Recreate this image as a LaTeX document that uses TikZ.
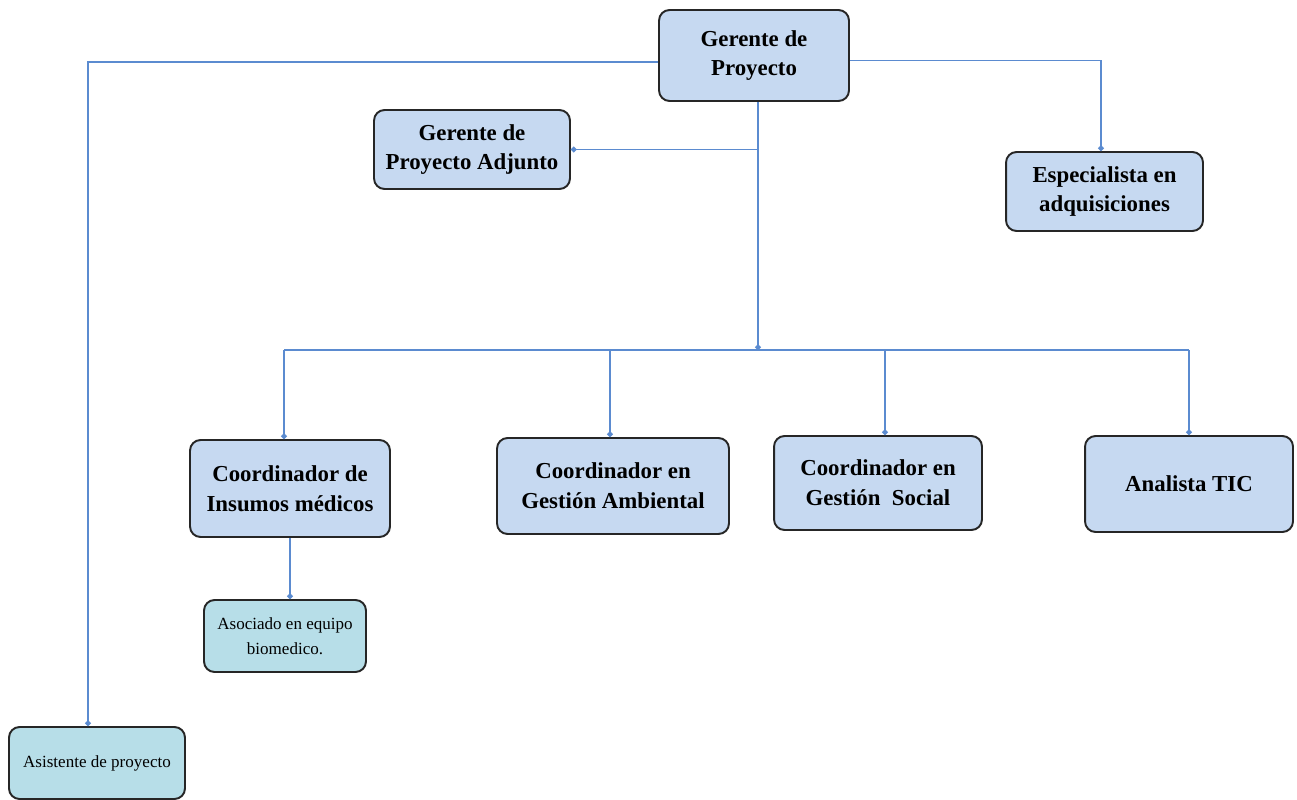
\documentclass[tikz,border=0pt]{standalone}
\usepackage{fontspec}
\setmainfont{Liberation Serif}
\usepackage{xcolor}
\usetikzlibrary{arrows.meta,positioning}

\definecolor{boxblue}{HTML}{C6D9F1}
\definecolor{boxteal}{HTML}{B7DEE8}
\definecolor{linkblue}{HTML}{5B8BD0}
\definecolor{edgegray}{HTML}{262626}

\begin{document}
\begin{tikzpicture}[
  x=0.02cm, y=-0.02cm,
  >={Circle[length=1.1mm]},
  every node/.style={align=center},
  role/.style={draw=edgegray, line width=1.1pt, rounded corners=6pt, fill=boxblue,
               font=\fontsize{13}{17}\selectfont\bfseries},
  helper/.style={role, fill=boxteal, font=\fontsize{9.7}{14}\selectfont},
  link/.style={draw=linkblue, line width=0.9pt},
]
  \useasboundingbox (0,0) rectangle (1297,800);

  \node[role, minimum width=3.8cm, minimum height=1.82cm]   (gp)   at (754,55.5)   {Gerente de\\Proyecto};
  \node[role, minimum width=3.92cm, minimum height=1.58cm]  (gpa)  at (472,149.5)  {Gerente de\\Proyecto Adjunto};
  \node[role, minimum width=3.94cm, minimum height=1.58cm]  (esp)  at (1104.5,191.5) {Especialista en\\adquisiciones};
  \node[role, minimum width=4.0cm, minimum height=1.94cm]   (cim)  at (290,488.5)  {Coordinador de\\Insumos médicos};
  \node[role, minimum width=4.64cm, minimum height=1.92cm]  (cga)  at (613,486)    {Coordinador en\\Gestión Ambiental};
  \node[role, minimum width=4.16cm, minimum height=1.88cm]  (cgs)  at (878,483)    {Coordinador en\\Gestión~~Social};
  \node[role, minimum width=4.16cm, minimum height=1.92cm]  (tic)  at (1189,484)   {Analista TIC};
  \node[helper, minimum width=3.24cm, minimum height=1.44cm] (aeb) at (285,636)    {Asociado en equipo\\biomedico.};
  \node[helper, minimum width=3.52cm, minimum height=1.44cm] (asp) at (97,763)     {Asistente de proyecto};

  \coordinate (bus) at (758,350);
  \coordinate (split) at (bus |- gpa.east);

  % top level links
  \draw[link, ->] ([yshift=-0.13cm]gp.west) -| ([xshift=-0.18cm]asp.north);
  \draw[link, ->] ([yshift=-0.1cm]gp.east) -| ([xshift=-0.07cm]esp.north);
  \draw[link, ->] (gp.south -| bus) -- (bus);
  \draw[link, ->] (split) -- (gpa.east);

  % coordinators
  \draw[link] ([xshift=-0.12cm]cim.north |- bus) -- (tic.north |- bus);
  \draw[link, ->] ([xshift=-0.12cm]cim.north |- bus) -- ([xshift=-0.12cm]cim.north);
  \draw[link, ->] ([xshift=-0.06cm]cga.north |- bus) -- ([xshift=-0.06cm]cga.north);
  \draw[link, ->] ([xshift=0.14cm]cgs.north |- bus) -- ([xshift=0.14cm]cgs.north);
  \draw[link, ->] (tic.north |- bus) -- (tic.north);
  \draw[link, ->] (cim.south) -- (cim.south |- aeb.north);
\end{tikzpicture}
\end{document}
